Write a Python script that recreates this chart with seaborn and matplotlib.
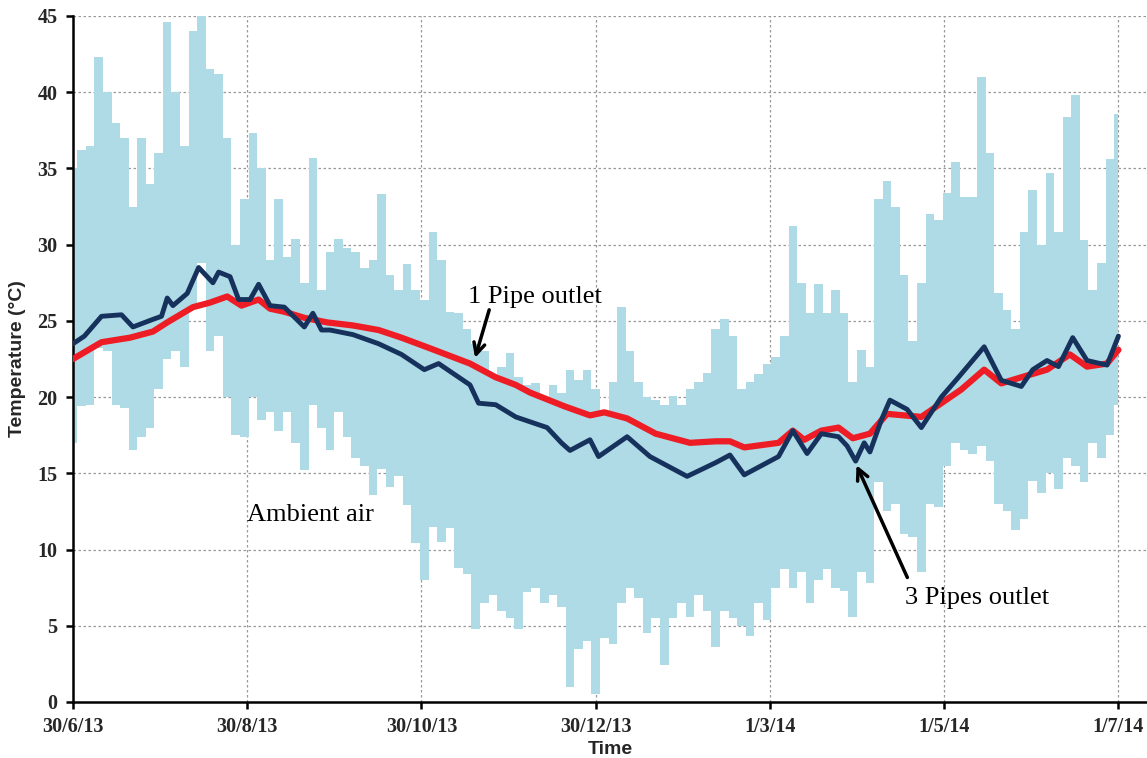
import numpy as np
import pandas as pd
import matplotlib.pyplot as plt
import seaborn as sns

start = pd.Timestamp("2013-06-30")

# ambient air: upper and lower envelope of the daily swing, every 3 days
amb_days = list(range(0, 367, 3))
amb_high = [35.0, 36.2, 36.5, 42.3, 40.0, 38.0, 37.0, 32.5, 37.0, 34.0,
            36.0, 44.6, 40.0, 36.5, 44.0, 45.0, 41.5, 41.2, 37.0, 30.0,
            33.0, 37.3, 35.0, 29.0, 33.0, 29.2, 30.4, 27.5, 35.7, 27.0,
            29.5, 30.4, 29.8, 29.5, 28.5, 29.0, 33.3, 28.0, 27.0, 28.7,
            27.0, 26.4, 30.8, 29.0, 25.6, 25.5, 24.5, 23.5, 23.0, 21.5,
            22.0, 22.9, 21.3, 20.8, 20.9, 20.0, 20.8, 20.3, 21.8, 21.1,
            21.8, 20.5, 19.0, 21.0, 25.9, 23.0, 21.0, 20.0, 19.8, 19.5,
            20.1, 19.5, 20.5, 21.0, 21.6, 24.5, 25.1, 24.0, 20.5, 21.0,
            21.5, 22.2, 22.6, 24.0, 31.2, 27.5, 25.5, 27.4, 25.5, 27.0,
            25.5, 21.0, 23.1, 22.0, 33.0, 34.2, 32.5, 28.0, 23.7, 27.5,
            32.0, 31.6, 33.4, 35.4, 33.1, 33.1, 41.0, 36.0, 26.8, 25.7,
            24.5, 30.8, 33.6, 30.0, 34.7, 30.8, 38.4, 39.8, 30.3, 27.0,
            28.8, 35.6, 38.6]
amb_low = [17.0, 19.4, 19.5, 23.2, 23.0, 19.5, 19.3, 16.5, 17.4, 18.0,
           20.5, 22.5, 23.0, 22.0, 26.0, 28.8, 23.0, 24.0, 20.0, 17.5,
           17.4, 20.0, 18.5, 19.0, 17.8, 19.0, 17.0, 15.2, 19.5, 18.0,
           16.5, 19.0, 17.4, 16.0, 15.5, 13.6, 15.3, 14.1, 14.8, 12.9,
           10.4, 8.0, 11.5, 10.5, 11.4, 8.8, 8.4, 4.8, 6.5, 7.0,
           6.0, 5.5, 4.8, 7.2, 7.5, 6.5, 7.0, 6.2, 1.0, 3.5,
           4.0, 0.5, 4.2, 3.8, 6.5, 7.5, 6.8, 4.5, 5.5, 2.4,
           5.5, 6.5, 5.6, 7.0, 6.0, 3.6, 6.0, 5.5, 5.0, 4.3,
           6.5, 5.4, 7.5, 8.7, 7.5, 8.5, 6.5, 8.0, 8.7, 7.5,
           7.3, 5.6, 8.5, 7.8, 14.4, 12.5, 13.0, 11.0, 10.8, 8.5,
           13.0, 12.8, 15.5, 17.0, 16.5, 16.3, 16.8, 15.8, 13.0, 12.5,
           11.3, 12.0, 14.5, 13.7, 15.0, 14.0, 16.0, 15.5, 14.4, 17.0,
           16.0, 17.5, 19.5]

# 1 pipe outlet
pipe1_days = [0, 10, 20, 28, 33, 42, 48, 54, 59, 65, 69, 74, 81, 89, 98, 107, 115,
              125, 132, 139, 148, 155, 160, 172, 181, 186, 194, 204, 216, 225, 230,
              235, 247, 252, 256, 262, 268, 273, 279, 285, 297, 304, 311, 319, 325,
              332, 341, 349, 355, 362, 366]
pipe1_temp = [22.5, 23.6, 23.9, 24.3, 24.9, 25.9, 26.2, 26.6, 26.0, 26.4, 25.8, 25.6,
              25.2, 24.9, 24.7, 24.4, 23.9, 23.2, 22.7, 22.2, 21.3, 20.8, 20.3, 19.4,
              18.8, 19.0, 18.6, 17.6, 17.0, 17.1, 17.1, 16.7, 17.0, 17.8, 17.2, 17.8,
              18.0, 17.3, 17.6, 18.9, 18.7, 19.6, 20.5, 21.8, 20.9, 21.3, 21.8, 22.8,
              22.0, 22.2, 23.1]

# 3 pipes outlet
pipe3_days = [0, 4, 10, 17, 21, 28, 31, 33, 35, 40, 44, 49, 51, 55, 58, 62, 65, 69,
              74, 81, 84, 87, 90, 98, 107, 115, 119, 123, 128, 139, 142, 148, 155,
              166, 171, 174, 181, 184, 194, 202, 215, 225, 230, 235, 247, 252, 257,
              262, 268, 271, 274, 277, 279, 283, 286, 292, 297, 304, 310, 319, 325,
              332, 336, 341, 345, 350, 355, 362, 366]
pipe3_temp = [23.5, 24.0, 25.3, 25.4, 24.6, 25.1, 25.3, 26.5, 26.0, 26.8, 28.5, 27.5,
              28.2, 27.9, 26.4, 26.4, 27.4, 26.0, 25.9, 24.6, 25.5, 24.4, 24.4, 24.1,
              23.5, 22.8, 22.3, 21.8, 22.2, 20.8, 19.6, 19.5, 18.7, 18.0, 17.0, 16.5,
              17.2, 16.1, 17.4, 16.1, 14.8, 15.7, 16.2, 14.9, 16.1, 17.8, 16.3, 17.6,
              17.4, 16.8, 15.8, 17.0, 16.4, 18.5, 19.8, 19.2, 18.0, 20.0, 21.3, 23.3,
              21.1, 20.7, 21.8, 22.4, 22.0, 23.9, 22.4, 22.1, 24.0]

tick_dates = ["2013-06-30", "2013-08-30", "2013-10-30", "2013-12-30",
              "2014-03-01", "2014-05-01", "2014-07-01"]
tick_labels = ["30/6/13", "30/8/13", "30/10/13", "30/12/13", "1/3/14", "1/5/14", "1/7/14"]


def to_date(days):
    return start + pd.to_timedelta(np.asarray(days, dtype=float), unit="D")


amb = pd.DataFrame({"date": to_date(amb_days), "high": amb_high, "low": amb_low})
p1 = pd.DataFrame({"date": to_date(pipe1_days), "temp": pipe1_temp})
p3 = pd.DataFrame({"date": to_date(pipe3_days), "temp": pipe3_temp})

sns.set_theme(style="white")
plt.rcParams["font.family"] = ["Liberation Sans", "DejaVu Sans"]

fig = plt.figure(figsize=(11.47, 7.58), dpi=100)
ax = fig.add_axes([0.0636, 0.0739, 0.9364, 0.905])

ax.fill_between(amb["date"], amb["low"], amb["high"], step="mid",
                color="#aedbe6", linewidth=0, zorder=2)
sns.lineplot(data=p1, x="date", y="temp", ax=ax, color="#ee1c25", linewidth=4.5, zorder=3)
sns.lineplot(data=p3, x="date", y="temp", ax=ax, color="#16325c", linewidth=3.5, zorder=4)

ax.set_xlim(start, start + pd.Timedelta(days=376))
ax.set_ylim(0, 45)
ax.set_yticks(range(0, 46, 5))
ax.set_xticks(pd.to_datetime(tick_dates))
ax.set_xticklabels(tick_labels)

ax.grid(True, color="#999999", linestyle=(0, (2, 2)), linewidth=0.9)
ax.set_axisbelow(True)
for s in ["top", "right"]:
    ax.spines[s].set_visible(False)
for s in ["left", "bottom"]:
    ax.spines[s].set_color("black")
    ax.spines[s].set_linewidth(1.8)

ax.tick_params(axis="both", direction="out", length=5, width=1.8, color="black",
               labelsize=14.5, pad=6, bottom=True, left=True)
for lab in ax.get_xticklabels() + ax.get_yticklabels():
    lab.set_family("Liberation Serif")
    lab.set_fontweight("bold")

ax.set_ylabel("Temperature (°C)", fontsize=14, fontweight="bold", labelpad=8)
ax.set_xlabel("Time", fontsize=14, fontweight="bold", labelpad=3)

serif = dict(family="Liberation Serif", fontsize=19, color="black")
ax.text(to_date([138.3])[0], 26.2, "1 Pipe outlet", ha="left", va="baseline", **serif)
ax.text(to_date([61])[0], 11.9, "Ambient air", ha="left", va="baseline", **serif)
ax.text(to_date([291.4])[0], 6.4, "3 Pipes outlet", ha="left", va="baseline", **serif)

arrow = dict(arrowstyle="->", color="black", lw=2.5, mutation_scale=20)
ax.annotate("", xy=(to_date([140.5])[0], 22.4), xytext=(to_date([146])[0], 25.9),
            arrowprops=arrow)
ax.annotate("", xy=(to_date([273.9])[0], 15.7), xytext=(to_date([292.5])[0], 8.0),
            arrowprops=arrow)

fig.savefig("out.png", dpi=100)
